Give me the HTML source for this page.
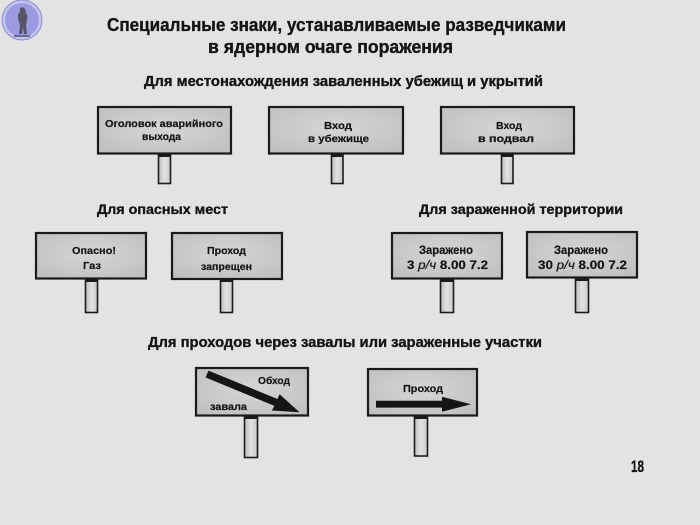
<!DOCTYPE html>
<html><head><meta charset="utf-8"><style>
html,body{margin:0;padding:0;background:#e3e4e2;}
svg{display:block;}
text{font-family:"Liberation Sans","DejaVu Sans",sans-serif;font-weight:bold;fill:#141414;stroke:#141414;stroke-width:0.35;}
.s text{stroke-width:0.2;}
</style></head><body>
<svg width="700" height="525" viewBox="0 0 700 525" xmlns="http://www.w3.org/2000/svg">
<defs>
<radialGradient id="sg" cx="50%" cy="45%" r="65%">
<stop offset="0" stop-color="#d6d7d5"/><stop offset="1" stop-color="#c0c1bf"/>
</radialGradient>
<linearGradient id="pg" x1="0" y1="0" x2="1" y2="0">
<stop offset="0" stop-color="#bdbdbb"/><stop offset="0.5" stop-color="#e2e2e0"/><stop offset="1" stop-color="#c8c8c6"/>
</linearGradient>
</defs>
<rect width="700" height="525" fill="#e3e4e2"/>

<!-- logo -->
<circle cx="22" cy="20" r="20" fill="#c4c4ee" stroke="#8c8cd8" stroke-width="1"/>
<circle cx="22" cy="20" r="17" fill="#9b9be4"/>
<path d="M20 8 q3 -2 5 1 l1 4 q2 2 1 7 l-1 6 l1 8 l-3 0 l-1 -7 l-1 7 l-3 0 l1 -9 l-2 -6 q-1 -5 2 -7 z" fill="#555566"/>
<rect x="14" y="35" width="16" height="2" fill="#6a6a80"/>

<!-- titles -->
<text x="107" y="31" font-size="18" textLength="459" lengthAdjust="spacingAndGlyphs">Специальные  знаки,  устанавливаемые  разведчиками</text>
<text x="208" y="53" font-size="18" textLength="245" lengthAdjust="spacingAndGlyphs">в  ядерном  очаге  поражения</text>
<text x="144" y="86" font-size="14.5" textLength="399" lengthAdjust="spacingAndGlyphs">Для  местонахождения  заваленных  убежищ  и  укрытий</text>
<text x="97" y="214" font-size="14" textLength="131" lengthAdjust="spacingAndGlyphs">Для  опасных  мест</text>
<text x="419" y="214" font-size="14" textLength="204" lengthAdjust="spacingAndGlyphs">Для  зараженной  территории</text>
<text x="148" y="347" font-size="14.5" textLength="394" lengthAdjust="spacingAndGlyphs">Для  проходов  через  завалы  или  зараженные  участки</text>
<text x="631" y="472" font-size="17" textLength="13" lengthAdjust="spacingAndGlyphs">18</text>

<!-- posts -->
<g fill="url(#pg)" stroke="#1c1c1c" stroke-width="1.6">
<rect x="158.5" y="154" width="12" height="29.5"/>
<rect x="331.5" y="154" width="11.5" height="29.5"/>
<rect x="501.5" y="154" width="11.5" height="29.5"/>
<rect x="85.5" y="279" width="12" height="33.5"/>
<rect x="220.5" y="279" width="12" height="33.5"/>
<rect x="440.5" y="279" width="13" height="33.5"/>
<rect x="575.5" y="278" width="13" height="34.5"/>
<rect x="244.5" y="416" width="13" height="41.5"/>
<rect x="414.5" y="416" width="13" height="40"/>
</g>
<g fill="#1c1c1c">
<rect x="158" y="154" width="13" height="3"/>
<rect x="331" y="154" width="12.5" height="3"/>
<rect x="501" y="154" width="12.5" height="3"/>
<rect x="85" y="279" width="13" height="3"/>
<rect x="220" y="279" width="13" height="3"/>
<rect x="440" y="279" width="14" height="3"/>
<rect x="575" y="278" width="14" height="3"/>
<rect x="244" y="416" width="14" height="3"/>
<rect x="414" y="416" width="14" height="3"/>
</g>

<!-- signs -->
<g fill="url(#sg)" stroke="#1a1a1a" stroke-width="2.2">
<rect x="98" y="107" width="133" height="46.5"/>
<rect x="269" y="107" width="134" height="46.5"/>
<rect x="441" y="107" width="133" height="46.5"/>
<rect x="36" y="233" width="110" height="45.5"/>
<rect x="172" y="233" width="110" height="46"/>
<rect x="392" y="233" width="110" height="45.5"/>
<rect x="527" y="232" width="110" height="45.5"/>
<rect x="196" y="368" width="112" height="47.5"/>
<rect x="368" y="369" width="109" height="46.5"/>
</g>

<!-- sign texts -->
<g class="s" font-size="10">
<text x="105" y="127" textLength="118" lengthAdjust="spacingAndGlyphs">Оголовок  аварийного</text>
<text x="142" y="140" textLength="39" lengthAdjust="spacingAndGlyphs">выхода</text>
<text x="324" y="129" textLength="28" lengthAdjust="spacingAndGlyphs">Вход</text>
<text x="308" y="142" textLength="61" lengthAdjust="spacingAndGlyphs">в  убежище</text>
<text x="496" y="129" textLength="26" lengthAdjust="spacingAndGlyphs">Вход</text>
<text x="478" y="142" textLength="56" lengthAdjust="spacingAndGlyphs">в  подвал</text>
<text x="72" y="254" textLength="44" lengthAdjust="spacingAndGlyphs">Опасно!</text>
<text x="83" y="269" textLength="18" lengthAdjust="spacingAndGlyphs">Газ</text>
<text x="207" y="254" textLength="39" lengthAdjust="spacingAndGlyphs">Проход</text>
<text x="201" y="270" textLength="51" lengthAdjust="spacingAndGlyphs">запрещен</text>
</g>
<g class="s" font-size="11.5">
<text x="419" y="254" textLength="54" lengthAdjust="spacingAndGlyphs">Заражено</text>
<text x="407" y="269" textLength="81" lengthAdjust="spacingAndGlyphs">3  <tspan font-style="italic" font-weight="normal">р/ч</tspan>  8.00  7.2</text>
<text x="554" y="254" textLength="54" lengthAdjust="spacingAndGlyphs">Заражено</text>
<text x="538" y="269" textLength="89" lengthAdjust="spacingAndGlyphs">30  <tspan font-style="italic" font-weight="normal">р/ч</tspan>  8.00  7.2</text>
</g>
<g class="s" font-size="10.5">
<text x="258" y="384" textLength="32" lengthAdjust="spacingAndGlyphs">Обход</text>
<text x="210" y="410" textLength="37" lengthAdjust="spacingAndGlyphs">завала</text>
<text x="403" y="392" textLength="40" lengthAdjust="spacingAndGlyphs">Проход</text>
</g>

<!-- arrows -->
<polygon fill="#151515" points="208.5,370.6 277.4,399.0 279.6,394.2 299.5,412.3 271.9,410.5 274.4,405.9 205.5,377.4"/>
<polygon fill="#151515" points="376,400.8 442,400.8 442,396.8 471,404.3 442,411.8 442,407.6 376,407.6"/>
</svg>
</body></html>
